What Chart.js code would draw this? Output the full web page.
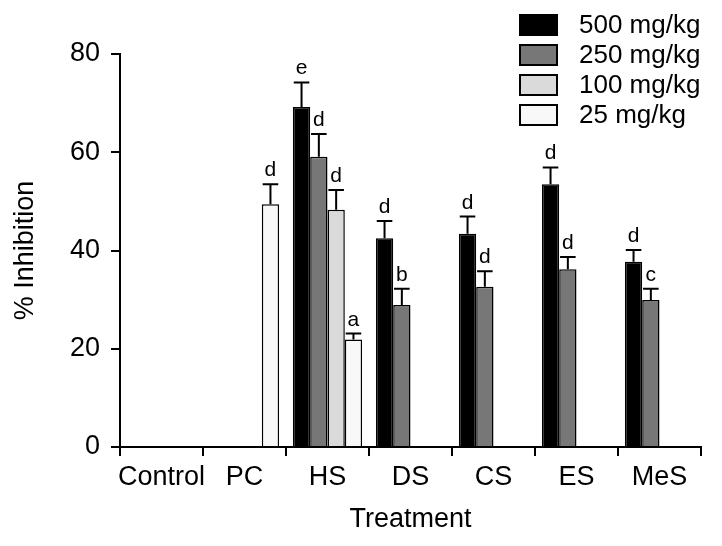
<!DOCTYPE html>
<html>
<head>
<meta charset="utf-8">
<script src="https://cdn.jsdelivr.net/npm/chart.js@4"></script>
<style>
  html, body { margin: 0; padding: 0; background: #fff; }
  #wrap { width: 722px; height: 546px; }
</style>
</head>
<body>
<div id="wrap"><canvas id="chart" width="722" height="546"></canvas></div>
<script>
const categories = ["Control", "PC", "HS", "DS", "CS", "ES", "MeS"];
const doses = ["500 mg/kg", "250 mg/kg", "100 mg/kg", "25 mg/kg"];

// mean % inhibition per dose (null = not tested)
const mean500 = [null, null, 69.2, 42.5, 43.4, 53.5, 37.7];
const mean250 = [null, null, 59.1, 28.9, 32.6, 36.2, 29.9];
const mean100 = [null, null, 48.3, null, null, null, null];
const mean25 = [null, 49.4, 21.9, null, null, null, null];

// upper error (SE)
const err500 = [0, 0, 5.0, 3.5, 3.5, 3.4, 2.4];
const err250 = [0, 0, 4.6, 3.3, 3.2, 2.5, 2.3];
const err100 = [0, 0, 4.0, 0, 0, 0, 0];
const err25 = [0, 4.1, 1.2, 0, 0, 0, 0];

// significance letters
const sig500 = ["", "", "e", "d", "d", "d", "d"];
const sig250 = ["", "", "d", "b", "d", "d", "c"];
const sig100 = ["", "", "d", "", "", "", ""];
const sig25 = ["", "d", "a", "", "", "", ""];

const yTicks = [0, 20, 40, 60, 80];

const FONT = "'Liberation Sans', Arial, Helvetica, sans-serif";
const fills = ["#000000", "#777777", "#dadada", "#f8f8f8"];

const errorBars = {
    id: "errorBars",
    afterDatasetsDraw(chart) {
        const ctx = chart.ctx;
        const y = chart.scales.y;
        chart.data.datasets.forEach((ds, i) => {
            const meta = chart.getDatasetMeta(i);
            meta.data.forEach((bar, j) => {
                const v = ds.data[j];
                if (v === null) return;
                const top = y.getPixelForValue(v + ds.errors[j]);
                const half = bar.width * 0.45;
                ctx.save();
                ctx.strokeStyle = "#000";
                ctx.lineWidth = 2;
                ctx.beginPath();
                ctx.moveTo(bar.x, bar.y);
                ctx.lineTo(bar.x, top);
                ctx.moveTo(bar.x - half, top);
                ctx.lineTo(bar.x + half, top);
                ctx.stroke();
                ctx.fillStyle = "#000";
                ctx.font = "21px " + FONT;
                ctx.textAlign = "center";
                ctx.textBaseline = "alphabetic";
                ctx.fillText(ds.letters[j], bar.x, top - 8);
                ctx.restore();
            });
        });
    },
};

// legend drawn by hand in the top right corner
const boxLegend = {
    id: "boxLegend",
    afterDraw(chart) {
        const ctx = chart.ctx;
        ctx.save();
        chart.data.datasets.forEach((ds, i) => {
            const top = 15 + i * 30;
            ctx.fillStyle = ds.backgroundColor;
            ctx.fillRect(520, top, 37, 20);
            ctx.strokeStyle = "#000";
            ctx.lineWidth = 2;
            ctx.strokeRect(520, top, 37, 20);
            ctx.fillStyle = "#000";
            ctx.font = "26px " + FONT;
            ctx.textAlign = "left";
            ctx.textBaseline = "middle";
            ctx.fillText(ds.label, 579, top + 11);
        });
        ctx.restore();
    },
};

const datasets = [
    { label: doses[0], data: mean500, errors: err500, letters: sig500, backgroundColor: fills[0] },
    { label: doses[1], data: mean250, errors: err250, letters: sig250, backgroundColor: fills[1] },
    { label: doses[2], data: mean100, errors: err100, letters: sig100, backgroundColor: fills[2] },
    { label: doses[3], data: mean25, errors: err25, letters: sig25, backgroundColor: fills[3] },
].map((d) => ({
    ...d,
    borderColor: "#000",
    borderWidth: 1.5,
    categoryPercentage: 0.834,
    barPercentage: 1.0,
}));

new Chart(document.getElementById("chart"), {
    type: "bar",
    data: { labels: categories, datasets },
    plugins: [errorBars, boxLegend],
    options: {
        responsive: false,
        animation: false,
        layout: { padding: { top: 54, right: 21, left: 0, bottom: 0 } },
        plugins: { legend: { display: false }, tooltip: { enabled: false } },
        scales: {
            x: {
                grid: {
                    display: true,
                    offset: true,
                    drawOnChartArea: false,
                    drawTicks: true,
                    tickLength: 9,
                    color: "#000",
                    lineWidth: 2,
                },
                border: { display: true, color: "#000", width: 2 },
                ticks: { color: "#000", font: { size: 27, family: FONT }, padding: 5, maxRotation: 0, autoSkip: false },
                title: {
                    display: true,
                    text: "Treatment",
                    color: "#000",
                    font: { size: 27, family: FONT },
                    padding: { top: 0, bottom: 10 },
                },
                afterFit(scale) { scale.height = 99; },
            },
            y: {
                min: 0,
                max: 80,
                afterBuildTicks(scale) { scale.ticks = yTicks.map((v) => ({ value: v })); },
                ticks: { color: "#000", font: { size: 27, family: FONT }, padding: 11 },
                grid: {
                    drawOnChartArea: false,
                    drawTicks: true,
                    tickLength: 9,
                    color: "#000",
                    lineWidth: 2,
                },
                border: { display: true, color: "#000", width: 2 },
                title: {
                    display: true,
                    text: "% Inhibition",
                    color: "#000",
                    font: { size: 27, family: FONT },
                    padding: { top: 9, bottom: 0 },
                },
                afterFit(scale) { scale.width = 120; },
            },
        },
    },
});
</script>
</body>
</html>
